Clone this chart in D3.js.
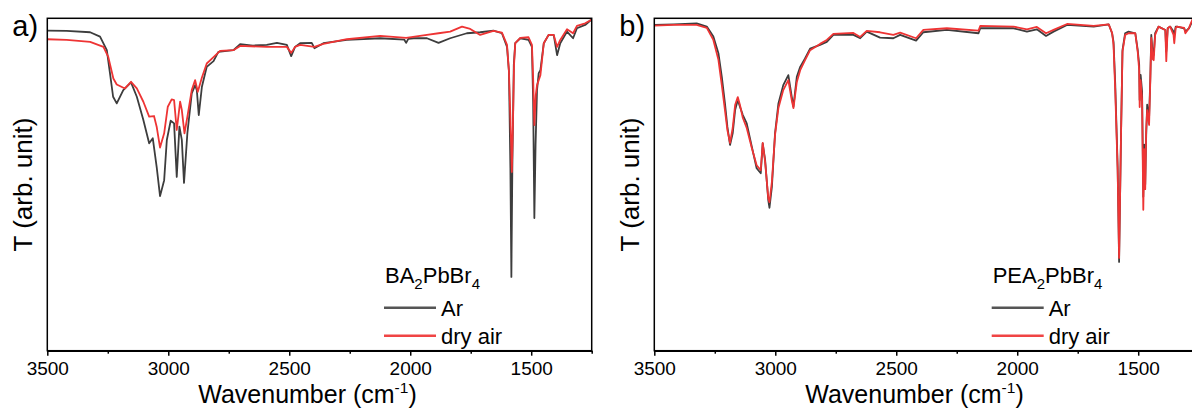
<!DOCTYPE html>
<html>
<head>
<meta charset="utf-8">
<script src="https://cdn.jsdelivr.net/npm/d3@7"></script>
<style>
  body { margin: 0; background: #fff; }
  svg { display: block; font-family: "Liberation Sans", Arial, sans-serif; }
</style>
</head>
<body>
<div id="chart"></div>
<script>
// wavenumber axis
const xTicks = [3500, 3000, 2500, 2000, 1500];
const xMinor = [3250, 2750, 2250, 1750, 1250];
const seriesNames = ['Ar', 'dry air'];

// a) BA2PbBr4, [wavenumber, T]
const baAr = [[3500,96.3],[3420,96.2],[3323,95.8],[3282,94.5],[3254,90.4],[3241,83.5],[3228,76.4],[3213,74.4],[3186,78.4],[3154,80.7],[3130,76.4],[3103,69.4],[3079,62.4],[3064,63.9],[3048,55.3],[3034,46.5],[3017,51.3],[3006,63.4],[2990,69.2],[2976,68.4],[2965,52.3],[2954,67.4],[2944,63.4],[2935,50.5],[2921,65.5],[2903,77.4],[2889,79.9],[2882,78.4],[2874,70.9],[2861,79.4],[2841,85.4],[2813,87.1],[2793,89.9],[2731,90.4],[2703,92.2],[2650,91.8],[2593,92.0],[2551,92.6],[2510,92.0],[2492,88.6],[2476,91.4],[2455,92.5],[2407,92.6],[2396,91.0],[2359,92.5],[2262,93.5],[2124,94.0],[2025,93.6],[2017,92.6],[2008,93.8],[1986,94.0],[1931,94.0],[1883,92.6],[1835,94.0],[1766,95.5],[1711,95.8],[1656,96.3],[1621,95.5],[1600,91.4],[1592,84],[1586,55],[1582,22.2],[1578,55],[1572,86],[1566,92.5],[1545,94.0],[1511,93.5],[1497,91.4],[1492,75],[1487,39.9],[1482,62],[1476,78.4],[1469,83.5],[1462,84.4],[1448,92.5],[1428,95.0],[1407,95.0],[1393,88.9],[1380,92.5],[1352,96.0],[1327,94.0],[1311,97.0],[1277,98.0],[1253,99.5],[1250,99.6]];
const baAir = [[3500,93.7],[3420,93.5],[3323,92.9],[3268,91.4],[3248,88.4],[3227,81.9],[3213,80.1],[3179,78.9],[3154,80.9],[3130,78.9],[3103,74.9],[3079,70.4],[3059,70.6],[3048,67.4],[3034,61.1],[3017,65.4],[3002,73.4],[2986,75.6],[2976,75.4],[2965,66.4],[2951,74.9],[2944,72.4],[2933,65.4],[2921,70.4],[2903,78.4],[2889,81.4],[2878,77.9],[2861,82.2],[2841,86.4],[2813,88.3],[2786,90.2],[2731,90.4],[2703,91.7],[2593,91.4],[2510,91.4],[2492,89.6],[2476,91.4],[2455,92.0],[2396,91.4],[2359,92.3],[2262,93.7],[2124,94.7],[2017,94.1],[1931,95.0],[1883,95.5],[1835,96.0],[1786,97.5],[1752,96.8],[1711,95.0],[1656,96.2],[1621,95.7],[1600,92.0],[1592,84],[1586,70],[1580,53.8],[1575,70],[1571,86],[1566,92.5],[1545,94.1],[1511,94.3],[1497,92.0],[1492,82],[1487,67.9],[1481,77],[1476,79.9],[1469,81.4],[1462,82.9],[1448,92.5],[1428,95.0],[1407,95.0],[1393,91.4],[1380,93.5],[1352,96.7],[1327,95.5],[1311,97.7],[1277,98.5],[1253,99.5],[1250,99.6]];

// b) PEA2PbBr4
const peaAr = [[3500,98.0],[3420,98.2],[3325,98.5],[3283,97.5],[3256,94.5],[3235,89.5],[3221,82.4],[3208,74.4],[3198,67.4],[3187,61.9],[3176,65.4],[3166,72.4],[3155,75.4],[3146,73.4],[3134,70.9],[3118,68.4],[3097,61.4],[3077,54.9],[3060,53.4],[3052,62.4],[3042,57.4],[3029,45.3],[3024,43.0],[3014,49.3],[3001,65.4],[2987,74.4],[2967,79.9],[2946,82.9],[2932,76.4],[2925,73.4],[2911,82.4],[2897,85.4],[2877,87.9],[2856,90.9],[2815,92.0],[2787,92.9],[2760,95.0],[2677,95.0],[2649,94.0],[2622,96.0],[2567,94.2],[2512,94.0],[2484,95.0],[2418,93.3],[2388,95.8],[2291,96.5],[2160,95.5],[2153,97.0],[2015,97.0],[1960,96.0],[1919,96.7],[1881,94.7],[1850,96.0],[1794,98.0],[1684,97.5],[1622,98.2],[1608,95.5],[1602,92.9],[1595,80.4],[1585,55.3],[1579,26.7],[1571,65.4],[1565,90.4],[1554,95.5],[1540,96.0],[1512,95.5],[1502,90.4],[1496,86],[1494,75.4],[1490,83],[1484,78],[1479,46.3],[1475,62],[1471,50],[1467,65],[1463,74],[1455,70],[1450,82],[1446,95],[1440,89],[1436,89],[1430,95.5],[1416,97.5],[1388,96.5],[1384,90],[1378,97],[1368,97.5],[1354,96],[1351,95],[1345,97.5],[1340,97.5],[1310,97],[1305,96],[1290,97],[1277,99],[1250,100]];
const peaAir = [[3500,97.8],[3420,98.0],[3325,98.0],[3283,97.1],[3256,93.5],[3235,87.5],[3221,79.9],[3208,72.4],[3198,66.4],[3187,62.5],[3176,67.0],[3166,73.9],[3155,76.3],[3146,73.9],[3134,70.0],[3118,67.0],[3097,61.0],[3077,55.8],[3060,54.3],[3052,62.5],[3042,56.8],[3029,45.9],[3024,44.7],[3014,50.8],[3001,64.9],[2987,73.0],[2967,78.4],[2946,81.4],[2932,75.4],[2925,73.0],[2911,80.8],[2897,84.4],[2877,87.4],[2856,90.4],[2815,92.3],[2787,93.5],[2760,95.3],[2677,95.6],[2649,94.4],[2622,96.2],[2567,95.8],[2512,95.0],[2484,95.7],[2418,94.0],[2388,96.5],[2291,97.0],[2160,96.3],[2153,97.7],[2015,97.5],[1960,96.7],[1919,97.4],[1881,95.5],[1850,96.5],[1794,98.3],[1684,97.7],[1622,98.2],[1608,95.6],[1602,92.0],[1595,78.4],[1585,54.3],[1579,27.9],[1571,64.9],[1565,89.9],[1554,95.0],[1540,95.5],[1512,95.5],[1502,89.9],[1496,84.4],[1494,73.3],[1490,81.4],[1484,75.4],[1479,42.4],[1475,60.6],[1471,48.6],[1467,66.4],[1463,72.4],[1455,67.9],[1450,81.4],[1446,94.1],[1440,87.7],[1436,87.4],[1430,95.0],[1416,97.5],[1388,96.5],[1384,87.1],[1378,97.1],[1368,97.5],[1354,95.0],[1351,92.5],[1345,97.1],[1340,97.5],[1310,97.1],[1305,95.5],[1290,97.1],[1277,99.5],[1250,100]];

const panels = [
  { id: 'a', label: 'a)', sample: ['BA', '2', 'PbBr', '4'], left: 47.3, series: [baAr, baAir], legendX: 384 },
  { id: 'b', label: 'b)', sample: ['PEA', '2', 'PbBr', '4'], left: 654.3, series: [peaAr, peaAir], legendX: 991.7 }
];
const colors = ['#3d3d3d', '#ee3434'];

const W = 1192, H = 410;
const plotTop = 18.3, plotBottom = 350.7, plotW = 544.4;

const svg = d3.select('#chart').append('svg')
  .attr('width', W)
  .attr('height', H);

svg.append('rect').attr('width', W).attr('height', H).attr('fill', '#fff');

panels.forEach((p) => {
  const x = d3.scaleLinear().domain([3500, 1250]).range([p.left, p.left + plotW]);
  const y = d3.scaleLinear().domain([0, 100]).range([plotBottom, plotTop]);

  const g = svg.append('g').attr('id', 'panel-' + p.id);

  g.append('clipPath').attr('id', 'clip-' + p.id)
    .append('rect')
    .attr('x', p.left).attr('y', plotTop)
    .attr('width', plotW).attr('height', plotBottom - plotTop);

  const line = d3.line().x((d) => x(d[0])).y((d) => y(d[1]));

  p.series.forEach((s, i) => {
    g.append('path')
      .datum(s)
      .attr('clip-path', `url(#clip-${p.id})`)
      .attr('fill', 'none')
      .attr('stroke', colors[i])
      .attr('stroke-width', 1.8)
      .attr('stroke-linejoin', 'round')
      .attr('d', line);
  });

  // frame
  g.append('rect')
    .attr('x', p.left).attr('y', plotTop)
    .attr('width', plotW).attr('height', plotBottom - plotTop)
    .attr('fill', 'none')
    .attr('stroke', '#000')
    .attr('stroke-width', 1.5);

  const xAxis = g.append('g')
    .attr('transform', `translate(0,${plotBottom})`)
    .call(d3.axisBottom(x).tickValues(xTicks).tickFormat(d3.format('d'))
      .tickSize(5).tickSizeOuter(0).tickPadding(6));
  xAxis.select('.domain').attr('stroke-width', 1.5);
  xAxis.selectAll('.tick line').attr('stroke-width', 1.5);
  xAxis.selectAll('.tick text')
    .attr('fill', '#000')
    .style('font-size', '19px')
    .style('font-family', '"Liberation Sans", Arial, sans-serif');

  const minor = g.append('g')
    .attr('transform', `translate(0,${plotBottom})`)
    .call(d3.axisBottom(x).tickValues(xMinor).tickSize(3).tickSizeOuter(0).tickFormat(''));
  minor.select('.domain').remove();
  minor.selectAll('.tick line').attr('stroke-width', 1.5);

  // x title
  const xt = g.append('text')
    .attr('x', p.left + plotW / 2 - 12)
    .attr('y', 403)
    .attr('text-anchor', 'middle')
    .attr('fill', '#000')
    .style('font-size', '25px');
  xt.append('tspan').text('Wavenumber (cm');
  xt.append('tspan').attr('dy', -10).style('font-size', '15.5px').text('-1');
  xt.append('tspan').attr('dy', 10).text(')');

  // y title
  g.append('text')
    .attr('transform', `translate(${p.left - 15.5},${(plotTop + plotBottom) / 2}) rotate(-90)`)
    .attr('text-anchor', 'middle')
    .attr('fill', '#000')
    .style('font-size', '26px')
    .text('T (arb. unit)');

  // panel label
  g.append('text')
    .attr('x', p.left - 35)
    .attr('y', 36)
    .attr('fill', '#000')
    .style('font-size', '29px')
    .text(p.label);

  // legend
  const lg = g.append('g');
  const st = lg.append('text')
    .attr('x', p.legendX + 1)
    .attr('y', 283)
    .attr('fill', '#000')
    .style('font-size', '22px');
  st.append('tspan').text(p.sample[0]);
  st.append('tspan').attr('dy', 6).style('font-size', '15px').text(p.sample[1]);
  st.append('tspan').attr('dy', -6).text(p.sample[2]);
  st.append('tspan').attr('dy', 6).style('font-size', '15px').text(p.sample[3]);

  seriesNames.forEach((name, i) => {
    const ly = 307.7 + i * 28;
    lg.append('line')
      .attr('x1', p.legendX).attr('x2', p.legendX + 52)
      .attr('y1', ly).attr('y2', ly)
      .attr('stroke', i === 0 ? '#555' : '#f04444')
      .attr('stroke-width', 2.5);
    lg.append('text')
      .attr('x', p.legendX + 57)
      .attr('y', ly + 8)
      .attr('fill', '#000')
      .style('font-size', '22px')
      .text(name);
  });
});
</script>
</body>
</html>
